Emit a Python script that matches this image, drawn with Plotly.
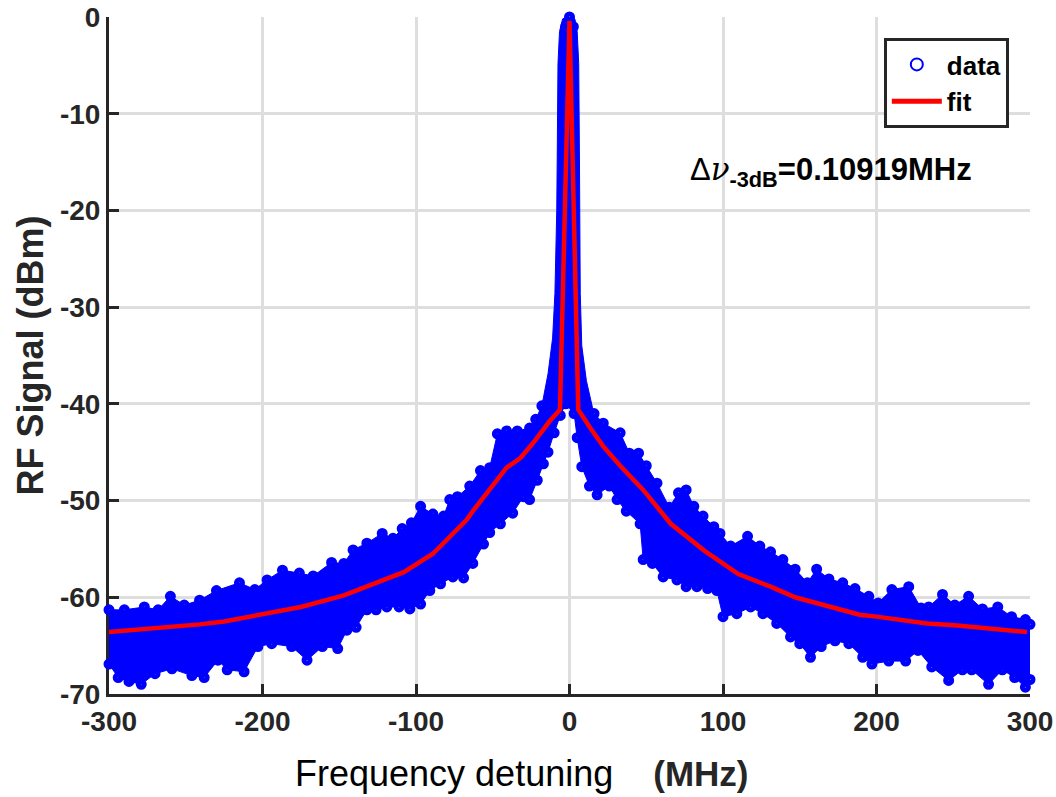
import plotly.graph_objects as go

# ---------------- data ----------------
# upper envelope of the measured points, left wing (MHz, dBm)
data_upper_left_mhz = [-300, -290, -277, -268, -260, -251, -241, -230, -215, -205, -197, -187, -176, -167,
                       -155, -147, -141, -132, -122, -115, -109, -103, -97, -89, -82, -78, -73, -65, -58,
                       -52, -47, -41, -34, -26, -22, -18]
data_upper_left_dbm = [-61.3, -61.3, -61.0, -61.3, -59.9, -60.8, -60.3, -59.3, -58.5, -59.2, -58.2, -57.2, -57.5, -57.8,
                       -56.4, -56.5, -55.1, -54.4, -53.4, -53.9, -52.9, -52.3, -50.6, -51.4, -51.6, -49.9, -49.6, -48.5, -46.9,
                       -46.6, -43.1, -42.8, -42.8, -42.5, -41.6, -40.2]

# outline of the dense central column of points (MHz, dBm)
data_peak_mhz = [-14, -11, -9.5, -8.3, -8, -7.5, -6.5, -4.5, -2, 1, 3.5, 5, 6, 6.5, 7, 8, 11, 15]
data_peak_dbm = [-36.9, -33.2, -28.6, -20.0, -14.5, -4.8, -1.5, -0.2, 0.0, 0.0, -0.2, -1.5, -4.8, -15.0, -28.6, -34.0, -37.6, -40.4]

# highest points at the top of the peak (MHz, dBm)
data_top_mhz = [-2.5, 0, 2.5]
data_top_dbm = [-1.0, 0.0, -1.0]

# upper envelope of the measured points, right wing (MHz, dBm)
data_upper_right_mhz = [16, 22, 33, 39, 45, 50, 57, 65, 71, 76, 81, 87, 94, 98,
                        105, 116, 124, 131, 139, 147, 155, 161, 169, 178, 186, 195, 201, 210, 221, 229,
                        234, 243, 251, 260, 269, 279, 288, 297, 300]
data_upper_right_dbm = [-41.0, -42.0, -43.0, -45.1, -45.1, -46.4, -48.2, -50.7, -49.2, -48.9, -50.6, -51.6, -52.7, -53.4,
                        -54.7, -53.7, -54.7, -55.3, -56.1, -57.1, -58.5, -57.1, -58.1, -58.5, -59.1, -59.9, -60.6, -59.2, -58.9, -61.1,
                        -61.0, -59.7, -60.8, -59.9, -61.2, -61.0, -62.0, -62.3, -62.8]

# lower envelope of the measured points (MHz, dBm)
data_lower_mhz = [-300, -294, -287, -279, -270, -259, -246, -238, -229, -223, -212, -203, -194, -181,
                  -171, -161, -151, -145, -139, -132, -126, -119, -111, -104, -97, -91, -84, -76, -69,
                  -63, -56, -52, -45, -37, -30, -26, -21, -17, -14, -10, -6, -2.5,
                  3, 5, 8, 13, 18, 26, 31, 37, 46, 48, 54, 61, 70, 76, 83, 90, 96, 100, 109, 118,
                  126, 135, 144, 150, 157, 164, 173, 182, 191, 197, 208, 219, 227, 236, 247, 256,
                  262, 273, 282, 290, 297, 300]
data_lower_dbm = [-66.9, -68.3, -68.7, -69.0, -67.9, -67.4, -68.1, -68.3, -66.5, -67.5, -67.7, -65.1, -64.8, -65.1,
                  -66.5, -65.1, -65.3, -63.4, -63.1, -61.3, -61.3, -61.0, -61.0, -61.2, -60.7, -59.3, -58.6, -57.9, -58.0,
                  -56.5, -54.5, -53.3, -52.4, -51.3, -49.6, -49.9, -47.9, -46.2, -45.0, -43.0, -41.2, -40.0,
                  -41.0, -43.5, -46.5, -48.5, -49.4, -48.5, -49.9, -51.1, -52.4, -56.1, -56.5, -57.9, -58.2, -58.9, -58.9, -59.1, -59.3, -62.0, -61.7, -61.0,
                  -61.7, -62.7, -64.1, -64.8, -66.2, -65.1, -64.5, -64.8, -66.2, -66.9, -66.6, -66.6, -65.5, -67.2, -68.6, -67.5,
                  -67.5, -69.0, -67.5, -68.3, -69.3, -68.5]

# fitted curve (MHz, dBm)
fit_mhz = [-300, -241, -225, -175, -147, -108, -89, -67, -63, -41, -32, -24, -13, -6.2, 0,
           5.7, 14, 22, 33, 48, 66, 88, 110, 131, 147, 189, 200, 233, 251, 298]
fit_dbm = [-63.6, -62.8, -62.5, -61.0, -59.8, -57.4, -55.5, -52.0, -51.1, -46.6, -45.6, -44.1, -41.8, -40.6, -0.4,
           -40.6, -42.6, -44.4, -46.4, -48.9, -52.4, -55.2, -57.6, -58.9, -60.0, -61.8, -62.0, -62.7, -62.9, -63.6]

x_ticks = [-300, -200, -100, 0, 100, 200, 300]
x_tick_text = ["-300", "-200", "-100", "0", "100", "200", "300"]
y_ticks = [-70, -60, -50, -40, -30, -20, -10, 0]
y_tick_text = ["-70", "-60", "-50", "-40", "-30", "-20", "-10", "0"]

BLUE = "#0000ff"
RED = "#ff0000"
AXC = "#262626"
FONT = "Liberation Sans, Arial, sans-serif"

fig = go.Figure()

# solid band covered by the dense points
band_x = data_upper_left_mhz + data_peak_mhz + data_upper_right_mhz + data_lower_mhz[::-1]
band_y = data_upper_left_dbm + data_peak_dbm + data_upper_right_dbm + data_lower_dbm[::-1]
fig.add_trace(go.Scatter(
    x=band_x, y=band_y,
    mode="lines", fill="toself", fillcolor=BLUE,
    line=dict(color=BLUE, width=1, simplify=False), showlegend=False, hoverinfo="skip",
))
# the measured points (circles)
fig.add_trace(go.Scatter(
    x=data_upper_left_mhz + data_top_mhz + data_upper_right_mhz + data_lower_mhz,
    y=data_upper_left_dbm + data_top_dbm + data_upper_right_dbm + data_lower_dbm,
    mode="markers", name="data", cliponaxis=False,
    marker=dict(symbol="circle-open", size=6, color=BLUE, line=dict(width=5, color=BLUE)),
))
# fit
fig.add_trace(go.Scatter(
    x=fit_mhz, y=fit_dbm, mode="lines", name="fit",
    line=dict(color=RED, width=4.5, simplify=False),
))

axis_common = dict(
    showline=True, linewidth=3, linecolor=AXC,
    ticks="inside", ticklen=10, tickwidth=3, tickcolor=AXC,
    showgrid=True, gridcolor="#dedede", gridwidth=3,
    zeroline=False, layer="below traces", automargin=False,
    tickfont=dict(family=FONT, size=28, color=AXC, weight="bold"),
)

fig.update_layout(
    width=1056, height=797,
    margin=dict(l=109, r=26, t=17, b=103),
    paper_bgcolor="white", plot_bgcolor="white",
    xaxis=dict(range=[-300, 300], tickvals=x_ticks, ticktext=x_tick_text, **axis_common),
    yaxis=dict(range=[-70, 0], tickvals=y_ticks, ticktext=y_tick_text, **axis_common),
    legend=dict(
        x=0.977, y=0.969, xanchor="right", yanchor="top",
        bgcolor="white", bordercolor=AXC, borderwidth=3,
        font=dict(family=FONT, size=26, color="#000000", weight="bold"),
        itemsizing="constant", itemwidth=50, tracegroupgap=0,
    ),
    annotations=[
        dict(text="Frequency detuning\u00a0\u00a0\u00a0\u00a0<b><span style='font-size:35px;fill:#262626'>(MHz)</span></b>",
             xref="paper", yref="paper", x=0.448, y=-0.1167, xanchor="center", yanchor="middle",
             showarrow=False, font=dict(family=FONT, size=36, color="#000000")),
        dict(text="<b>RF Signal (dBm)</b>", textangle=-90,
             xref="paper", yref="paper", x=-0.0847, y=0.5, xanchor="center", yanchor="middle",
             showarrow=False, font=dict(family=FONT, size=36, color=AXC)),
        dict(text="\u0394<i><span style='font-family:DejaVu Serif'>\u03bd</span></i><sub><b>-3dB</b></sub><b>=0.10919MHz</b>",
             xref="x", yref="y", x=77, y=-16.0, xanchor="left", yanchor="middle",
             showarrow=False, font=dict(family=FONT, size=31, color="#000000")),
    ],
)

fig.write_html("out.html")
